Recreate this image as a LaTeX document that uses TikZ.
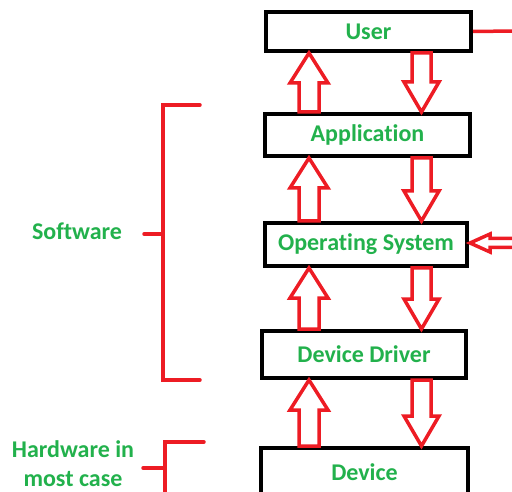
\documentclass[tikz,border=0pt]{standalone}
\usepackage{fontspec}
\setmainfont{Carlito}[Ligatures={NoCommon}]
\usetikzlibrary{calc}
\definecolor{pgreen}{HTML}{22B14C}
\definecolor{pred}{HTML}{ED1C24}
\tikzset{
  layerbox/.style={draw=black, line width=4pt, fill=white, inner sep=0pt,
    font=\fontsize{24}{26}\selectfont\bfseries, text=pgreen},
  lbl/.style={font=\fontsize{24}{29}\selectfont\bfseries, text=pgreen, align=center},
  blk/.style={draw=pred, line width=3.5pt, line join=miter},
  brk/.style={draw=pred, line width=3.5pt, line cap=round}
}
\newcommand\uparr[2]{%
  \draw[blk] let \p1=(#1.south), \p2=(#2.north) in
    (309pt,\y1) -- (328pt,\y1-30pt) -- (319pt,\y1-30pt) -- (319pt,\y2)
    -- (299pt,\y2) -- (299pt,\y1-30pt) -- (290pt,\y1-30pt) -- cycle;}
\newcommand\downarr[2]{%
  \draw[blk] let \p1=(#1.south), \p2=(#2.north) in
    (412pt,\y1) -- (431pt,\y1) -- (431pt,\y2+30pt) -- (439pt,\y2+30pt)
    -- (421.5pt,\y2) -- (404pt,\y2+30pt) -- (412pt,\y2+30pt) -- cycle;}
\begin{document}
\begin{tikzpicture}
\useasboundingbox (0,0) rectangle (512pt,-492pt);
\clip (0,0) rectangle (512pt,-492pt);
\node[layerbox, minimum width=205pt, minimum height=39pt] (user) at (368.5pt,-31.5pt) {User};
\node[layerbox, minimum width=205pt, minimum height=42pt] (app) at (367.5pt,-135pt) {Application};
\node[layerbox, minimum width=202pt, minimum height=43pt] (os) at (366pt,-244.5pt) {Operating System};
\node[layerbox, minimum width=204pt, minimum height=47pt] (dd) at (364pt,-354.5pt) {Device Driver};
\node[layerbox, minimum width=207pt, minimum height=48pt] (dev) at (364.5pt,-472pt) {Device};

\uparr{user}{app}\downarr{user}{app}
\uparr{app}{os}\downarr{app}{os}
\uparr{os}{dd}\downarr{os}{dd}
\uparr{dd}{dev}\downarr{dd}{dev}

% right side connectors
\coordinate (ur) at (514pt,-31pt);
\draw[pred, line width=3.5pt] (user.east) -- (ur);
\coordinate (osr) at (470pt,-243pt);
\draw[blk] (osr) -- (490pt,-234pt) -- (490pt,-238.5pt) -- (515pt,-238.5pt)
  -- (515pt,-247.5pt) -- (490pt,-247.5pt) -- (490pt,-252pt) -- cycle;

% labels
\node[lbl] (sw) at (77pt,-231pt) {Software};
\node[lbl] (hw) at (73pt,-463.5pt) {Hardware in\\most case};

% brackets
\draw[brk] (200pt,-105pt) -- (163pt,-105pt) -- (163pt,-380pt) -- (200pt,-380pt);
\draw[brk] (144pt,-234pt) -- (163pt,-234pt);
\draw[brk] (204pt,-442pt) -- (165pt,-442pt) -- (165pt,-500pt);
\draw[brk] (143pt,-468pt) -- (165pt,-468pt);
\end{tikzpicture}
\end{document}
